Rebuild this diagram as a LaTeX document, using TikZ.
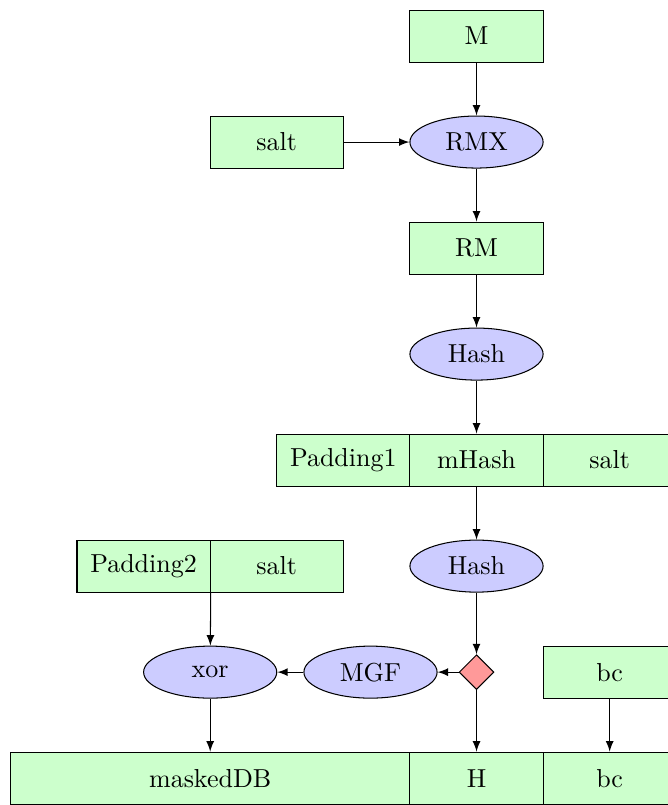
\documentclass[tikz,border=0pt]{standalone}
\usepackage{tikz}
\usetikzlibrary{positioning,shapes.geometric}
\newcommand\link[2]{\draw[->] (#1) -- (#2);}

\begin{document}
\begin{tikzpicture}[>=latex,node distance=1.433cm,on grid]
\tikzstyle{block}=[draw,fill=green!20,minimum width=1.8cm,minimum height=0.703cm,inner sep=0pt]
\tikzstyle{op}=[draw,ellipse,fill=blue!20,minimum width=1.8cm,minimum height=0.703cm,inner sep=0pt]
\tikzstyle{mixer}=[draw,diamond,fill=red!40,minimum size=0.47cm,inner sep=0pt]
\useasboundingbox (0,0) rectangle (9.029,-10.881);
% message and salt
\node[block] (m) at (6.441,-0.487) {M};
\node[op,below=of m] (rmx) {RMX};
\node[block,left=2.7cm of rmx] (salta) {salt};
\node[block,below=of rmx] (rm) {RM};
\node[op,below=of rm] (hasha) {Hash};
% first padded block
\node[block,below=of hasha] (mhash) {mHash};
\node[block,left=1.8cm of mhash] (pada) {Padding1};
\node[block,right=1.8cm of mhash] (saltb) {salt};
\node[op,below=of mhash] (hashb) {Hash};
\node[block,left=2.7cm of hashb] (saltc) {salt};
\node[block,left=1.8cm of saltc] (padb) {Padding2};
% output
\node[block,below=2.866cm of hashb] (h) {H};
\node[block,minimum width=5.4cm,left=3.6cm of h] (mdb) {maskedDB};
\node[block,right=1.8cm of h] (bcb) {bc};
% mask
\node[mixer,below=of hashb] (mix) {};
\node[op,left=of mix] (mgf) {MGF};
\node[op] (xor) at (mdb |- mix) {xor};
\node[block,right=1.8cm of mix] (bca) {bc};
\link{m}{rmx}
\link{salta}{rmx}
\link{rmx}{rm}
\link{rm}{hasha}
\link{hasha}{mhash}
\link{mhash}{hashb}
\link{hashb}{mix}
\link{mix}{mgf}
\link{mgf}{xor}
\link{padb.south east}{xor}
\link{xor}{mdb}
\link{mix}{h}
\link{bca}{bcb}
\end{tikzpicture}
\end{document}
